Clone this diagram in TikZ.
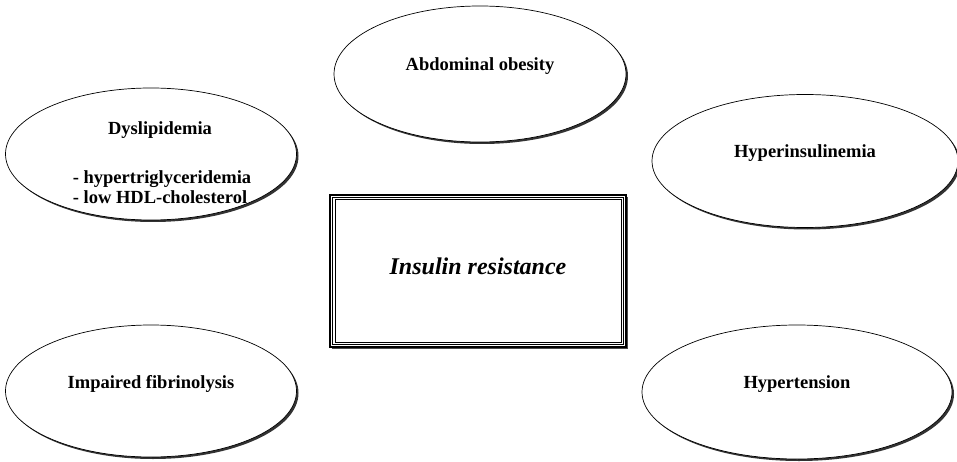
\documentclass[tikz,border=0pt]{standalone}
\usepackage{fontspec}
\setmainfont{Liberation Serif}
\usepackage{tikz,color}
\usetikzlibrary{positioning,shapes.geometric,shadows}
\usepackage{xcolor}

\tikzset{
  blob/.style={ellipse, draw, line width=0.7pt, fill=white,
    drop shadow={shadow xshift=2pt, shadow yshift=-2pt, fill=black!80, opacity=1}},
  txt/.style={font=\fontsize{18.5}{20}\selectfont\bfseries, inner sep=0pt},
  frame/.style={draw, line width=2pt, fill=white,
    drop shadow={shadow xshift=1.8pt, shadow yshift=-1.8pt, fill=black!70, opacity=1}}
}

\begin{document}
\begin{tikzpicture}[x=1pt, y=-1pt]
    \useasboundingbox (0,0) rectangle (957,462);
    % the five ellipses
    \node[blob, minimum width=292pt, minimum height=136pt] at (480,74) (obesity) {};
    \node[blob, minimum width=291pt, minimum height=132pt] at (151,154) (dyslip) {};
    \node[blob, minimum width=306pt, minimum height=133pt] at (805,161) (hyperins) {};
    \node[blob, minimum width=291pt, minimum height=132pt] at (151,391) (fibrin) {};
    \node[blob, minimum width=310pt, minimum height=134pt] at (797,392) (hypert) {};
    % texts
    \node[txt] at ([yshift=8pt]obesity.center) (obesitytxt) {Abdominal obesity};
    \node[txt] at (160,130) (dysliptxt) {Dyslipidemia};
    \node[txt, align=left] at (162,187) (dysliplist) {- hypertriglyceridemia\\- low HDL-cholesterol};
    \node[txt] at ([yshift=8pt]hyperins.center) (hyperinstxt) {Hyperinsulinemia};
    \node[txt] at ([yshift=7pt]fibrin.center) (fibrintxt) {Impaired fibrinolysis};
    \node[txt] at ([yshift=8pt]hypert.center) (huperttxt) {Hypertension};
    % central box
    \node[frame, minimum width=296pt, minimum height=152pt] at (478,271) (box) {};
    \draw[line width=0.6pt] ([xshift=3.5pt,yshift=-3.5pt]box.north west) rectangle ([xshift=-3.5pt,yshift=3.5pt]box.south east);
    \draw[line width=1pt] ([xshift=6pt,yshift=-6pt]box.north west) rectangle ([xshift=-6pt,yshift=6pt]box.south east);
    \node[font=\fontsize{24}{26}\selectfont\bfseries\itshape] at (478,266) (boxtxt) {Insulin resistance};
\end{tikzpicture}
\end{document}
